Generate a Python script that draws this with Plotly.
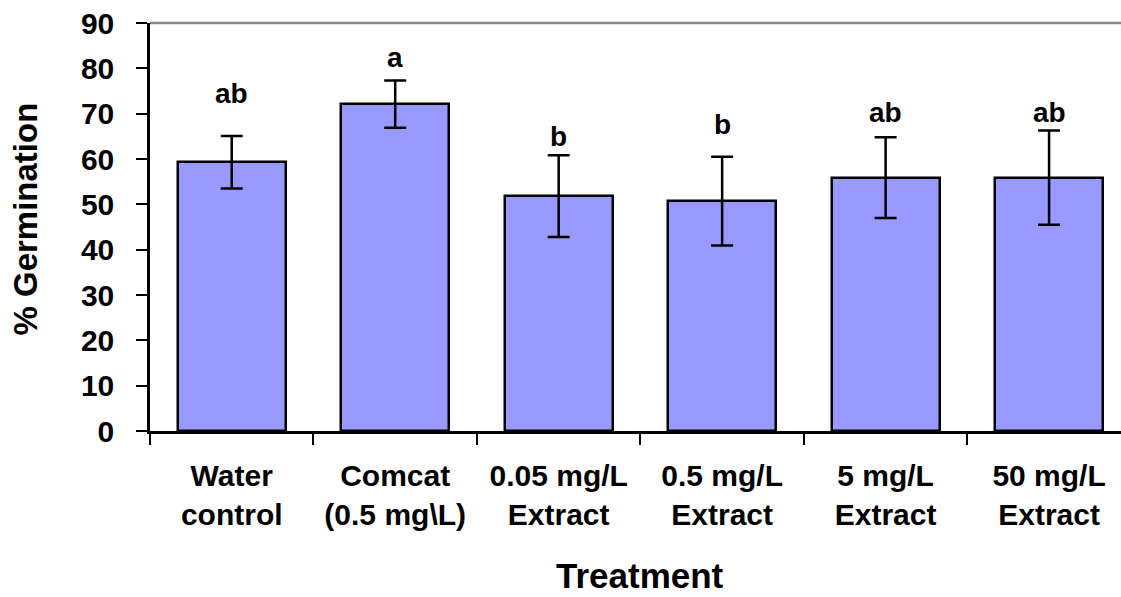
import plotly.graph_objects as go

categories = ["Water<br>control", "Comcat<br>(0.5 mg\\L)", "0.05 mg/L<br>Extract",
              "0.5 mg/L<br>Extract", "5 mg/L<br>Extract", "50 mg/L<br>Extract"]
germination = [59.3, 72.1, 51.8, 50.7, 55.9, 55.9]
error = [5.8, 5.2, 9.0, 9.8, 8.9, 10.4]
letters = ["ab", "a", "b", "b", "ab", "ab"]
letter_y = [74.4, 82.5, 64.9, 67.6, 70.3, 70.3]
y_ticks = [0, 10, 20, 30, 40, 50, 60, 70, 80, 90]

FONT = "Liberation Sans, Arial, sans-serif"

fig = go.Figure()
fig.add_trace(go.Bar(
    x=categories, y=germination, width=0.66,
    marker=dict(color="#9999FF", line=dict(color="black", width=2.5)),
    error_y=dict(type="data", array=error, visible=True, color="black",
                 thickness=2.5, width=11),
    showlegend=False,
))

for c, t, yy in zip(categories, letters, letter_y):
    fig.add_annotation(x=c, y=yy, text="<b>%s</b>" % t, showarrow=False,
                       xref="x", yref="y", yanchor="middle",
                       font=dict(family=FONT, size=28, color="black"))

fig.add_annotation(x=2.5, y=-0.355, xref="x", yref="paper", text="<b>Treatment</b>",
                   showarrow=False, yanchor="middle",
                   font=dict(family=FONT, size=35, color="black"))
fig.add_annotation(x=-0.128, y=0.52, xref="paper", yref="paper", textangle=-90,
                   text="<b>% Germination</b>", showarrow=False,
                   xanchor="center", yanchor="middle",
                   font=dict(family=FONT, size=33, color="black"))

fig.add_shape(type="line", xref="paper", yref="paper", x0=0, x1=1, y0=1, y1=1,
              line=dict(color="#888888", width=2.5))

fig.update_layout(
    width=1121, height=597,
    margin=dict(l=150, r=0, t=23, b=166),
    paper_bgcolor="white", plot_bgcolor="white",
    font=dict(family=FONT, color="black"),
    bargap=0,
    xaxis=dict(
        type="category", range=[-0.5, 5.44],
        tickson="boundaries", ticks="outside", ticklen=11, tickwidth=1.5,
        tickcolor="black", showline=True, linecolor="black", linewidth=2.5,
        showgrid=False, zeroline=False, ticklabelstandoff=16,
        tickfont=dict(family=FONT, size=30, color="black", weight="bold"),
    ),
    yaxis=dict(
        range=[0, 90], tickmode="array", tickvals=y_ticks,
        ticktext=["<b>%d</b>" % v for v in y_ticks],
        ticks="outside", ticklen=11, tickwidth=1.5, tickcolor="black",
        showline=True, linecolor="black", linewidth=2.5,
        showgrid=False, zeroline=False, ticklabelstandoff=16,
        tickfont=dict(family=FONT, size=30, color="black"),
    ),
)

fig.write_html("out.html", config={"displayModeBar": False},
               post_script="document.body.style.margin='0';")
